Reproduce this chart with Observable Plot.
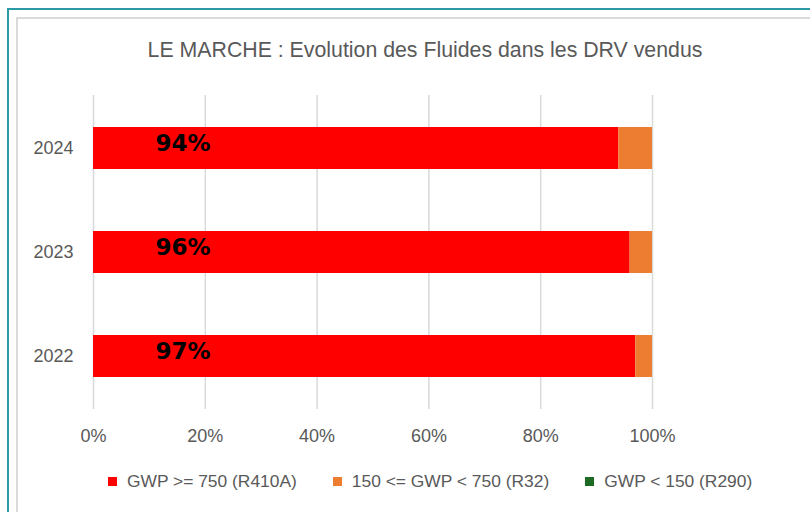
<!DOCTYPE html>
<html>
<head>
<meta charset="utf-8">
<script src="https://cdn.jsdelivr.net/npm/d3@7"></script>
<script src="https://cdn.jsdelivr.net/npm/@observablehq/plot@0.6"></script>
<style>
  html, body { margin: 0; padding: 0; background: #fff; }
  #frame { position: relative; width: 810px; height: 512px; overflow: hidden; background: #fff; font-family: "Liberation Sans", Arial, sans-serif; }
  #teal { position: absolute; left: 7px; top: 8px; width: 900px; height: 600px; border: 2px solid #2b9aa6; box-sizing: border-box; }
  #gray { position: absolute; left: 16px; top: 17px; width: 900px; height: 600px; border: 2px solid #dadada; box-sizing: border-box; }
  #title { position: absolute; left: 0; top: 38px; width: 850px; text-align: center; font-size: 21.3px; color: #595959; white-space: nowrap; }
  #chart { position: absolute; left: 0; top: 80px; }
  #legend { position: absolute; left: 108px; top: 471px; display: flex; align-items: center; font-size: 17.4px; color: #595959; white-space: nowrap; }
  .item { display: flex; align-items: center; margin-right: 36px; }
  .sw { width: 9px; height: 9px; margin-right: 10px; }
</style>
</head>
<body>
<div id="frame">
  <div id="teal"></div>
  <div id="gray"></div>
  <div id="title"></div>
  <div id="chart"></div>
  <div id="legend"></div>
</div>
<script>
const title = "LE MARCHE : Evolution des Fluides dans les DRV vendus";
const years = ["2024", "2023", "2022"];
const series = ["GWP >= 750 (R410A)", "150 <= GWP < 750 (R32)", "GWP < 150 (R290)"];
const colors = ["#ff0000", "#ed7d31", "#1d6b23"];
const high = [0.94, 0.96, 0.97];
const mid = [0.06, 0.04, 0.03];
const low = [0, 0, 0];
const labels = ["94%", "96%", "97%"];
const xTicks = [0, 0.2, 0.4, 0.6, 0.8, 1];

const seriesValues = [high, mid, low];
const rows = [];
years.forEach((y, i) => {
  series.forEach((s, j) => rows.push({year: y, series: s, value: seriesValues[j][i]}));
});
const labelRows = years.map((y, i) => ({year: y, label: labels[i]}));

document.getElementById("title").textContent = title;

const plot = Plot.plot({
  width: 810,
  height: 370,
  marginLeft: 93,
  marginRight: 158,
  marginTop: 15,
  marginBottom: 41,
  style: {fontFamily: "Liberation Sans, Arial, sans-serif", fontSize: "18px", color: "#595959", background: "transparent"},
  x: {domain: [0, 1], label: null},
  y: {domain: years, paddingInner: 0.6, paddingOuter: 0.3, label: null},
  color: {domain: series, range: colors},
  marks: [
    Plot.gridX(xTicks, {stroke: "#d9d9d9", strokeOpacity: 1, strokeWidth: 1.5}),
    Plot.barX(rows, Plot.stackX({x: "value", y: "year", fill: "series", order: series})),
    Plot.axisX({ticks: xTicks, tickFormat: d => Math.round(d * 100) + "%", tickSize: 0, tickPadding: 20, fill: "#595959", fontSize: 18}),
    Plot.axisY({tickSize: 0, tickPadding: 20, fill: "#595959", fontSize: 18}),
    Plot.text(labelRows, {x: () => 0.16, y: "year", text: "label", fontFamily: "DejaVu Sans, sans-serif", fontWeight: "bold", fontSize: 23, fill: "#000", dy: -5})
  ]
});
document.getElementById("chart").appendChild(plot);

const legend = document.getElementById("legend");
series.forEach((s, i) => {
  const item = document.createElement("div");
  item.className = "item";
  const sw = document.createElement("span");
  sw.className = "sw";
  sw.style.background = colors[i];
  const t = document.createElement("span");
  t.textContent = s;
  item.appendChild(sw);
  item.appendChild(t);
  legend.appendChild(item);
});
</script>
</body>
</html>
